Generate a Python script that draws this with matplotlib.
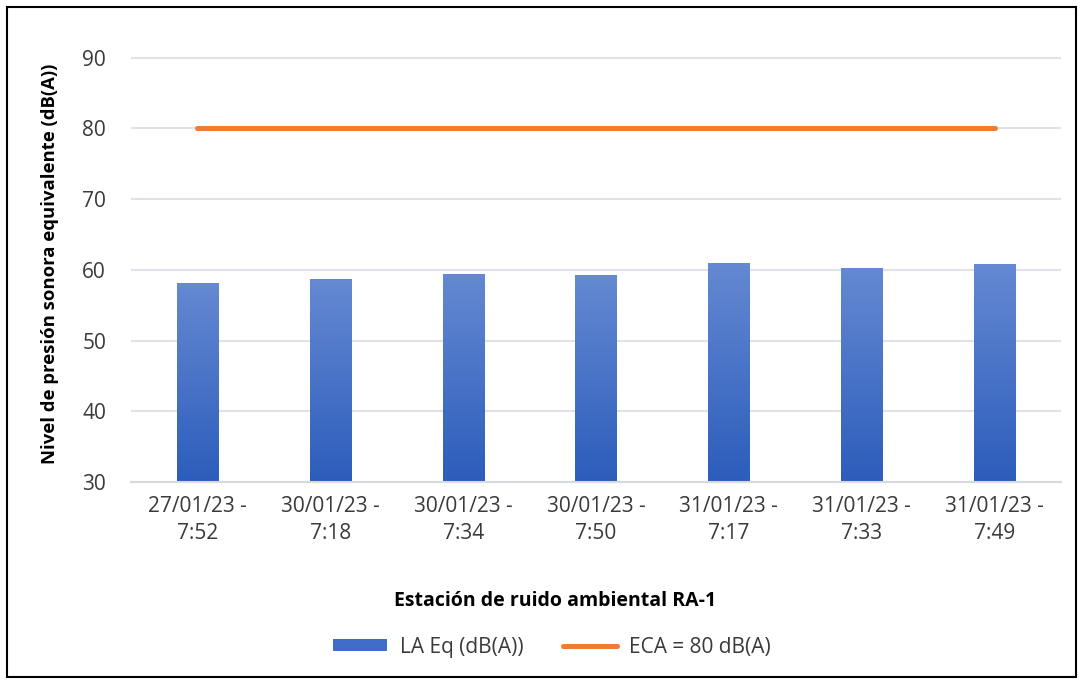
import numpy as np
import matplotlib
matplotlib.use('Agg')
import matplotlib.pyplot as plt
from matplotlib.patches import Rectangle, Patch
from matplotlib.lines import Line2D

# datos
etiquetas = ['27/01/23 -\n7:52', '30/01/23 -\n7:18', '30/01/23 -\n7:34', '30/01/23 -\n7:50',
             '31/01/23 -\n7:17', '31/01/23 -\n7:33', '31/01/23 -\n7:49']
laeq = [58.1, 58.7, 59.4, 59.2, 61.0, 60.3, 60.8]
eca = [80, 80, 80, 80, 80, 80, 80]
yticks = [30, 40, 50, 60, 70, 80, 90]

plt.rcParams['font.family'] = ['Open Sans', 'DejaVu Sans']

fig = plt.figure(figsize=(10.83, 6.81), dpi=100)
ax = fig.add_axes([131/1083, 1 - 482/681, (1061 - 131)/1083, (482 - 46)/681])

x = np.arange(len(etiquetas))
bars = ax.bar(x, laeq, width=0.31, color='none', zorder=2)

# degradado en las barras
grad = np.linspace(0, 1, 256).reshape(-1, 1)
cmap = matplotlib.colors.LinearSegmentedColormap.from_list('g', ['#2c5dbb', '#6589d2'])
for b in bars:
    x0, y0 = b.get_x(), b.get_y()
    w, h = b.get_width(), b.get_height()
    im = ax.imshow(grad, cmap=cmap, aspect='auto', origin='lower',
                   extent=[x0, x0 + w, 30, y0 + h], zorder=2)
    im.set_clip_path(b)

ax.plot(x, eca, color='#ed7d31', linewidth=3.6, solid_capstyle='round', zorder=3)

ax.set_xlim(-0.5, len(etiquetas) - 0.5)
ax.set_ylim(30, 91.65)
ax.set_yticks(yticks)
ax.set_xticks(x)
ax.set_xticklabels(etiquetas, fontsize=15, color='#3a3a3a', linespacing=1.4)
ax.tick_params(axis='y', labelsize=15, colors='#3a3a3a', length=0, pad=18)
ax.tick_params(axis='x', length=0, pad=10)
ax.grid(axis='y', color='#dfe2e8', linewidth=1.5, zorder=0)
for s in ['top', 'right', 'left']:
    ax.spines[s].set_visible(False)
ax.spines['bottom'].set_color('#d6d9de')
ax.spines['bottom'].set_linewidth(1.5)

ax.set_ylabel('Nivel de presión sonora equivalente (dB(A))', fontsize=13.3, fontweight='bold',
              color='black')
ax.yaxis.set_label_coords(-72/930, 0.5)
fig.text(555/1083, 1 - 601/681, 'Estación de ruido ambiental RA-1',
         ha='center', va='center', fontsize=14, fontweight='bold')

handles = [Patch(facecolor='#3f6cc6', label='LA Eq (dB(A))'),
           Line2D([], [], color='#ed7d31', linewidth=3.6, solid_capstyle='round',
                  label='ECA = 80 dB(A)')]
leg = fig.legend(handles=handles, loc='center', bbox_to_anchor=(552/1083, 1 - 647/681), ncol=2,
                 frameon=False, fontsize=15, handlelength=2.6, handleheight=0.5,
                 handletextpad=0.6, columnspacing=1.9)
for t in leg.get_texts():
    t.set_color('#3a3a3a')

# marco
fig.patches.append(Rectangle((7/1083, 4/681), 1069/1083, 670/681, transform=fig.transFigure,
                             fill=False, edgecolor='black', linewidth=1.5))

fig.savefig('out.png', dpi=100)
